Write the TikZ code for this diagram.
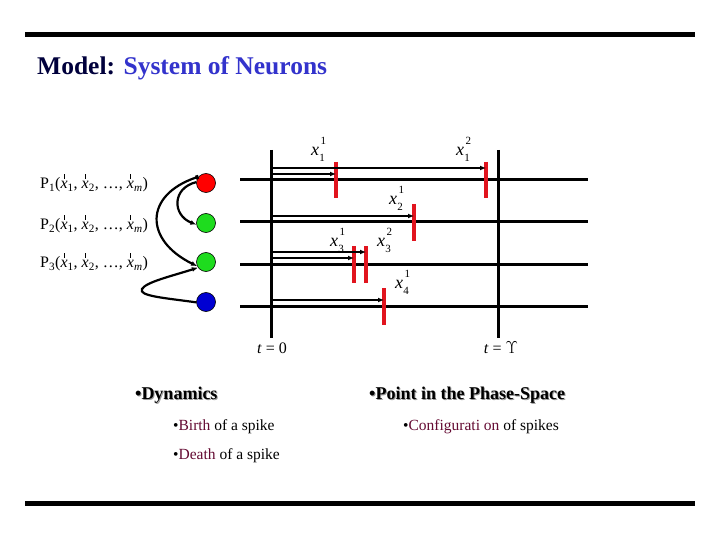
\documentclass[tikz,border=0pt]{standalone}
\usepackage{fontspec}
\setmainfont{Liberation Serif}
\usetikzlibrary{arrows.meta}
\definecolor{titledark}{RGB}{0,0,60}
\definecolor{titleblue}{RGB}{51,51,204}
\definecolor{spikered}{RGB}{225,20,30}
\definecolor{maroon}{RGB}{100,10,50}
\definecolor{ngreen}{RGB}{30,220,30}
\definecolor{nblue}{RGB}{0,0,210}
\newcommand{\tickx}{\makebox[0pt][l]{\hspace{0.2em}\raisebox{0.62em}{\rule{0.06em}{0.32em}}}\textit{x}}
\newcommand{\plabel}[1]{P\textsubscript{#1}(\tickx\textsubscript{1}, \tickx\textsubscript{2}, \ldots, \tickx\textsubscript{\textit{m}})}
\newcommand{\smallidx}{\fontsize{11}{11}\selectfont}
\newcommand{\xlab}[2]{\textit{x}\kern0.02em\rlap{\raisebox{0.62em}{\smallidx\kern0.1em #2}}\raisebox{-0.32em}{\smallidx #1}}
\begin{document}
\begin{tikzpicture}[x=1pt,y=-1pt,
  rule/.style={line width=5pt},
  neuronline/.style={line width=3pt},
  timeline/.style={line width=3pt},
  spike/.style={line width=4pt, spikered},
  interval/.style={line width=1.5pt, {Bar[width=5pt,line width=2pt]}-{Latex[length=6pt,width=5pt]}},
  neuron/.style={circle, draw=black, line width=0.6pt, minimum size=19pt, inner sep=0pt},
  link/.style={line width=2.2pt, -{Latex[length=6pt,width=5pt]}},
  xl/.style={font=\fontsize{18}{18}\selectfont, inner sep=0pt},
  pl/.style={font=\fontsize{16}{16}\selectfont, anchor=west, inner sep=0pt},
  head/.style={font=\fontsize{18}{18}\selectfont\bfseries, anchor=base west, inner sep=0pt},
  item/.style={font=\fontsize{15.5}{16}\selectfont, anchor=base west, inner sep=0pt}
]
\useasboundingbox (0,0) rectangle (720,540);
\fill[white] (0,0) rectangle (720,540);
% rules
\draw[rule] (25,35) -- (695,35);
\draw[rule] (25,503) -- (695,503);
% title
\node[anchor=base west, inner sep=0pt, font=\fontsize{25.5}{27}\selectfont\bfseries] (title) at (37,75)
  {\textcolor{titledark}{Model:} \textcolor{titleblue}{System of Neurons}};
% neuron lines
\foreach \i/\y in {1/180,2/222,3/264,4/306}{
  \coordinate (ls\i) at (240,\y);
  \coordinate (le\i) at (588,\y);
  \draw[neuronline] (ls\i) -- (le\i);
}
% time lines
\coordinate (t0top) at (271,150); \coordinate (t0bot) at (271,338);
\coordinate (tTtop) at (498,150); \coordinate (tTbot) at (498,338);
\draw[timeline] (t0top) -- (t0bot);
\draw[timeline] (tTtop) -- (tTbot);
\node[font=\fontsize{16}{16}\selectfont, anchor=base] (t0) at (272,353) {\textit{t} = 0};
\node[font=\fontsize{16}{16}\selectfont, anchor=base] (tT) at (501,353) {\textit{t} = $\Upsilon$};
% spikes
\foreach \n/\x/\a/\b in {s11/336/162/198, s12/486/162/198, s21/414/204/241, s31/354/246/283, s32/366/246/283, s41/384/288/325}{
  \coordinate (\n top) at (\x,\a);
  \coordinate (\n bot) at (\x,\b);
  \draw[spike] (\n top) -- (\n bot);
}
% intervals
\coordinate (a12s) at (271,168); \coordinate (a12e) at (486,168);
\coordinate (a11s) at (271,174); \coordinate (a11e) at (336,174);
\coordinate (a21s) at (271,216); \coordinate (a21e) at (414,216);
\coordinate (a32s) at (271,252); \coordinate (a32e) at (366,252);
\coordinate (a31s) at (271,258); \coordinate (a31e) at (354,258);
\coordinate (a41s) at (271,300); \coordinate (a41e) at (384,300);
\foreach \n in {a12,a11,a21,a32,a31,a41}{
  \draw[interval] (\n s) -- (\n e);
}
% spike labels
\node[xl] (x11) at (318,149) {\xlab{1}{1}};
\node[xl] (x12) at (463,149) {\xlab{1}{2}};
\node[xl] (x21) at (396,198) {\xlab{2}{1}};
\node[xl] (x31) at (337,240) {\xlab{3}{1}};
\node[xl] (x32) at (384,240) {\xlab{3}{2}};
\node[xl] (x41) at (402,282) {\xlab{4}{1}};
% P labels
\node[pl] (p1) at (40,183) {\plabel{1}};
\node[pl] (p2) at (40,224) {\plabel{2}};
\node[pl] (p3) at (40,262) {\plabel{3}};
% neurons
\node[neuron, fill=red] (n1) at (206,183) {};
\node[neuron, fill=ngreen] (n2) at (206,223) {};
\node[neuron, fill=ngreen] (n3) at (206,262) {};
\node[neuron, fill=nblue] (n4) at (206,302) {};
% links
\draw[link, {Square[length=3pt,width=4pt]}-{Latex[length=6pt,width=5pt]}] (n1.140) .. controls (144,195) and (144,240) .. (n3.205);
\draw[link] (n1.175) .. controls (172,188) and (172,215) .. (n2.190);
\draw[link] (n4.182) .. controls (165,298) and (138,296) .. (142,289) .. controls (146,282) and (172,276) .. (n3.215);
% bottom text
\node[head, text=black!40] at (136,400) {•Dynamics};
\node[head] (dyn) at (135,399) {•Dynamics};
\node[head, text=black!40] at (370,400) {•Point in the Phase-Space};
\node[head] (pps) at (369,399) {•Point in the Phase-Space};
\node[item] (birth) at (173,430) {•\textcolor{maroon}{Birth} of a spike};
\node[item] (death) at (173,459) {•\textcolor{maroon}{Death} of a spike};
\node[item] (conf) at (403,430) {•\textcolor{maroon}{Configurati\kern0.25em on} of spikes};
\end{tikzpicture}
\end{document}
